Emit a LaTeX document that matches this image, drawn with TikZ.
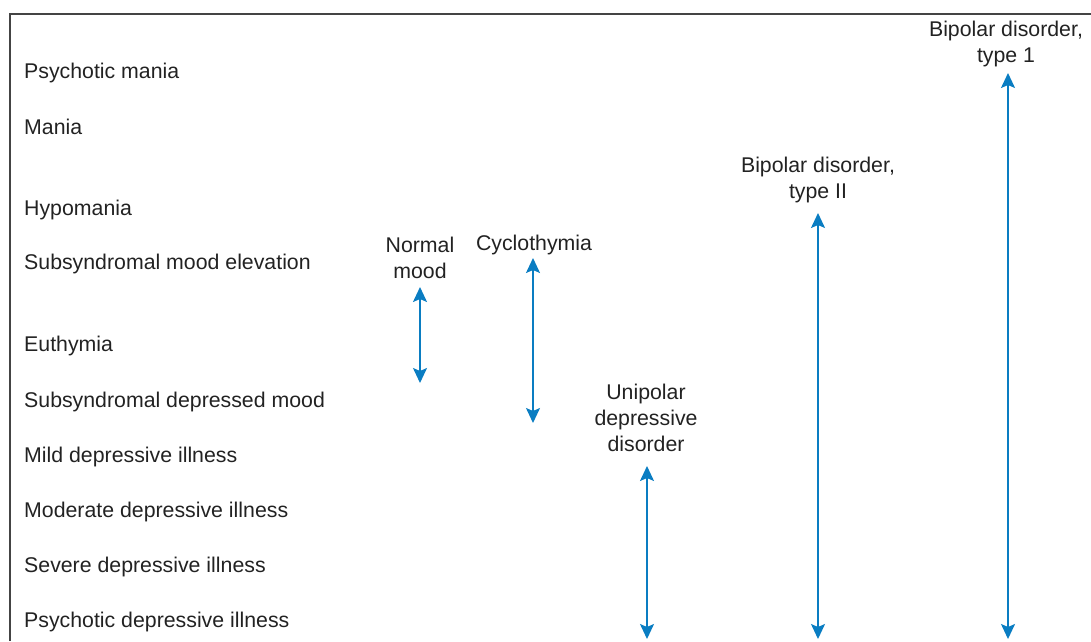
\documentclass[tikz,border=0pt]{standalone}
\usepackage{fontspec}
\setmainfont{Liberation Sans}
\usetikzlibrary{arrows.meta}
\definecolor{spanblue}{HTML}{0A7DC2}
\definecolor{textgray}{HTML}{222222}
\definecolor{framegray}{HTML}{444444}
\begin{document}
\begin{tikzpicture}[x=1pt,y=-1pt,
  every node/.style={font=\fontsize{21.3}{26}\selectfont, text=textgray, inner sep=0pt},
  level/.style={anchor=base west},
  disorder/.style={anchor=base, align=center},
  span/.style={draw=spanblue, line width=1.6pt,
    {Stealth[length=15pt,width=14pt,inset=3pt]}-{Stealth[length=15pt,width=14pt,inset=3pt]}}]
  \useasboundingbox (0,0) rectangle (1091,641);
  % frame
  \draw[framegray, line width=1.4pt] (10,641) -- (10,14) -- (1092,14);
  % mood levels
  \node[level] (l1)  at (24,78)  {Psychotic mania};
  \node[level] (l2)  at (24,134) {Mania};
  \node[level] (l3)  at (24,215) {Hypomania};
  \node[level] (l4)  at (24,269) {Subsyndromal mood elevation};
  \node[level] (l5)  at (24,351) {Euthymia};
  \node[level] (l6)  at (24,407) {Subsyndromal depressed mood};
  \node[level] (l7)  at (24,462) {Mild depressive illness};
  \node[level] (l8)  at (24,517) {Moderate depressive illness};
  \node[level] (l9)  at (24,572) {Severe depressive illness};
  \node[level] (l10) at (24,627) {Psychotic depressive illness};
  % disorders (base anchor sits on the last line)
  \node[disorder] (normal) at (420,278) {Normal\\mood};
  \node[disorder] (cyclo)  at (534,250) {Cyclothymia};
  \node[disorder] (unipol) at (646,451) {Unipolar\\depressive\\disorder};
  \node[disorder] (bip2)   at (818,198) {Bipolar disorder,\\type II};
  \node[disorder] (bip1)   at (1006,62) {Bipolar disorder,\\type 1};
  % span ends
  \coordinate (normalT) at (420,287);  \coordinate (normalB) at (420,383);
  \coordinate (cycloT)  at (533,258);  \coordinate (cycloB)  at (533,423);
  \coordinate (unipolT) at (647,466);  \coordinate (unipolB) at (647,639);
  \coordinate (bip2T)   at (818,213);  \coordinate (bip2B)   at (818,639);
  \coordinate (bip1T)   at (1008,73);  \coordinate (bip1B)   at (1008,639);
  \draw[span] (normalT) -- (normalB);
  \draw[span] (cycloT) -- (cycloB);
  \draw[span] (unipolT) -- (unipolB);
  \draw[span] (bip2T) -- (bip2B);
  \draw[span] (bip1T) -- (bip1B);
\end{tikzpicture}
\end{document}
